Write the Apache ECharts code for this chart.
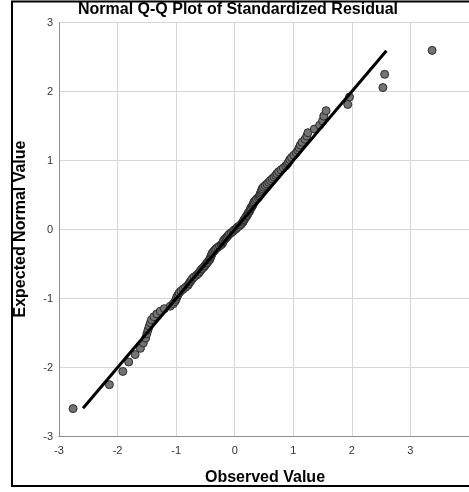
<!DOCTYPE html>
<html>
<head>
<meta charset="utf-8">
<script src="https://cdn.jsdelivr.net/npm/echarts@6/dist/echarts.min.js"></script>
<style>html,body{margin:0;padding:0;background:#fff}#c{width:469px;height:492px}</style>
</head>
<body>
<div id="c"></div>
<script>
const titleText = 'Normal Q-Q Plot of Standardized Residual';
const xName = 'Observed Value';
const yName = 'Expected Normal Value';
const xTicks = [-3, -2, -1, 0, 1, 2, 3];
const yTicks = [-3, -2, -1, 0, 1, 2, 3];

// Observed standardized residuals (x) and expected normal values (y)
const observed = [
 -2.76,-2.14,-1.91,-1.81,-1.70,-1.61,-1.56,-1.52,-1.50,-1.48,
 -1.46,-1.44,-1.42,-1.38,-1.33,-1.27,-1.20,-1.10,-1.05,-1.02,
 -1.00,-0.99,-0.97,-0.95,-0.92,-0.88,-0.84,-0.80,-0.78,-0.76,
 -0.74,-0.72,-0.69,-0.65,-0.62,-0.60,-0.58,-0.56,-0.53,-0.51,
 -0.49,-0.47,-0.45,-0.43,-0.42,-0.41,-0.40,-0.39,-0.38,-0.36,
 -0.34,-0.32,-0.29,-0.26,-0.23,-0.21,-0.20,-0.19,-0.17,-0.15,
 -0.13,-0.11,-0.09,-0.06,-0.03,-0.01,
 0.02,0.04,0.07,0.10,0.12,0.14,0.15,0.16,0.18,0.19,
 0.21,0.22,0.23,0.25,0.26,0.27,0.28,0.30,0.31,0.32,
 0.33,0.35,0.37,0.40,0.42,0.43,0.44,0.45,0.46,0.47,
 0.49,0.52,0.55,0.58,0.61,0.64,0.67,0.70,0.72,0.75,
 0.79,0.83,0.87,0.90,0.92,0.94,0.97,1.01,1.05,1.08,
 1.10,1.12,1.15,1.20,1.23,1.25,1.36,1.45,1.50,1.52,
 1.56,1.93,1.96,2.53,2.56,3.37
];
const expected = [
 -2.596,-2.249,-2.057,-1.920,-1.812,-1.722,-1.644,-1.574,-1.512,-1.456,
 -1.403,-1.354,-1.308,-1.264,-1.223,-1.184,-1.147,-1.111,-1.077,-1.044,
 -1.012,-0.980,-0.950,-0.921,-0.892,-0.864,-0.837,-0.810,-0.784,-0.759,
 -0.734,-0.709,-0.685,-0.661,-0.638,-0.615,-0.592,-0.570,-0.548,-0.526,
 -0.504,-0.482,-0.461,-0.440,-0.419,-0.399,-0.378,-0.358,-0.338,-0.318,
 -0.298,-0.278,-0.259,-0.239,-0.220,-0.200,-0.181,-0.162,-0.143,-0.124,
 -0.105,-0.085,-0.066,-0.047,-0.028,-0.009,
 0.009,0.028,0.047,0.066,0.085,0.105,0.124,0.143,0.162,0.181,
 0.200,0.220,0.239,0.259,0.278,0.298,0.318,0.338,0.358,0.378,
 0.399,0.419,0.440,0.461,0.482,0.504,0.526,0.548,0.570,0.592,
 0.615,0.638,0.661,0.685,0.709,0.734,0.759,0.784,0.810,0.837,
 0.864,0.892,0.921,0.950,0.980,1.012,1.044,1.077,1.111,1.147,
 1.184,1.223,1.264,1.308,1.354,1.403,1.456,1.512,1.574,1.644,
 1.722,1.812,1.920,2.057,2.249,2.596
];
const lineEnds = [-2.59, 2.59];

const font = "'Liberation Sans', Arial, sans-serif";
const pts = observed.map((x, i) => [x, expected[i]]);

const chart = echarts.init(document.getElementById('c'), null, {renderer: 'canvas'});
chart.setOption({
  animation: false,
  backgroundColor: '#fff',
  grid: {left: 59, top: 22.5, width: 414, height: 414, containLabel: false},
  xAxis: {
    type: 'value', min: xTicks[0], max: 4, interval: 1,
    axisLine: {show: true, onZero: false, lineStyle: {color: '#8c8c8c', width: 1}},
    axisTick: {show: false},
    axisLabel: {color: '#333', fontSize: 11, fontFamily: font, margin: 9, showMaxLabel: false,
      formatter: v => xTicks.indexOf(v) >= 0 ? String(v) : ''},
    splitLine: {show: true, lineStyle: {color: '#d6d6d6', width: 1}}
  },
  yAxis: {
    type: 'value', min: yTicks[0], max: yTicks[yTicks.length - 1], interval: 1,
    axisLine: {show: true, onZero: false, lineStyle: {color: '#8c8c8c', width: 1}},
    axisTick: {show: false},
    axisLabel: {color: '#333', fontSize: 11, fontFamily: font, margin: 6},
    splitLine: {show: true, lineStyle: {color: '#d6d6d6', width: 1}}
  },
  series: [
    {
      type: 'scatter', data: pts, symbol: 'circle', symbolSize: 8, z: 2,
      itemStyle: {color: '#737373', borderColor: '#2b2b2b', borderWidth: 1, opacity: 1}
    },
    {
      type: 'line', data: [[lineEnds[0], lineEnds[0]], [lineEnds[1], lineEnds[1]]],
      symbol: 'none', z: 3, lineStyle: {color: '#000', width: 3}
    }
  ],
  graphic: [
    {type: 'rect', silent: true, z: 100,
      shape: {x: 12, y: 1.5, width: 480, height: 484.5},
      style: {fill: 'none', stroke: '#000', lineWidth: 2}},
    {type: 'text', z: 101, x: 238, y: 10,
      style: {text: titleText, fill: '#000', font: 'bold 16px ' + font, textAlign: 'center', textVerticalAlign: 'middle'}},
    {type: 'text', z: 101, x: 265, y: 478,
      style: {text: xName, fill: '#000', font: 'bold 16px ' + font, textAlign: 'center', textVerticalAlign: 'middle'}},
    {type: 'text', z: 101, x: 21, y: 229, rotation: Math.PI / 2,
      style: {text: yName, fill: '#000', font: 'bold 16px ' + font, textAlign: 'center', textVerticalAlign: 'middle'}}
  ]
});
</script>
</body>
</html>
